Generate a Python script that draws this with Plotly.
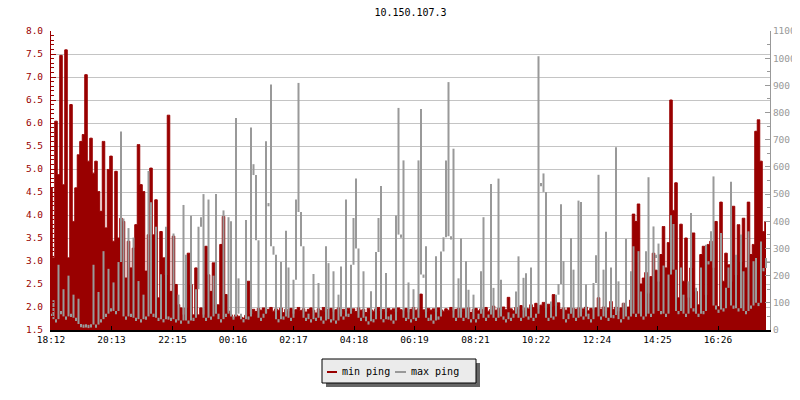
import pandas as pd
import plotly.graph_objects as go

# 5 minute samples starting 18:12
start = "2000-01-01 18:12"

min_ping = [
    4.59, 3.07, 6.04, 4.88, 7.47, 4.66, 7.59, 3.07, 6.40, 3.86,
    4.59, 5.31, 5.60, 5.75, 7.05, 5.17, 5.67, 4.91, 5.17, 4.51,
    4.08, 5.60, 3.72, 4.99, 5.28, 3.43, 4.95, 3.50, 3.93, 3.86,
    2.63, 3.43, 2.85, 3.28, 3.79, 5.53, 4.66, 4.51, 2.78, 3.57,
    5.02, 3.57, 4.33, 2.20, 3.64, 3.07, 2.70, 6.17, 2.34, 3.54,
    2.49, 2.05, 1.98, 1.83, 1.98, 3.17, 2.49, 1.83, 2.85, 1.83,
    1.98, 1.83, 3.32, 2.70, 2.34, 2.96, 2.05, 2.05, 3.36, 3.97,
    2.27, 1.91, 1.83, 1.76, 1.83, 1.80, 1.78, 1.76, 1.82, 2.56,
    1.85, 1.95, 1.90, 1.97, 1.93, 1.98, 1.87, 1.95, 1.99, 1.91,
    1.96, 1.93, 1.98, 1.88, 1.95, 1.90, 1.97, 1.85, 1.94, 1.99,
    1.92, 1.96, 1.89, 1.95, 1.98, 1.93, 1.87, 1.96, 1.92, 1.99,
    1.90, 1.95, 1.97, 1.91, 1.94, 1.98, 1.86, 1.95, 1.92, 1.97,
    1.93, 1.96, 1.90, 1.98, 1.93, 1.95, 1.88, 1.97, 1.94, 1.91,
    1.96, 1.99, 1.92, 1.95, 1.89, 1.97, 1.93, 1.96, 1.90, 1.98,
    1.94, 1.92, 1.97, 1.88, 1.95, 1.99, 1.93, 1.96, 2.28, 1.94,
    1.90, 1.97, 1.93, 1.96, 1.89, 1.98, 1.94, 1.91, 1.96, 1.93,
    1.99, 1.92, 1.95, 1.97, 1.90, 1.96, 1.93, 1.98, 1.88, 1.95,
    1.97, 1.92, 1.96, 1.94, 1.99, 1.91, 1.95, 2.02, 1.93, 1.97,
    1.95, 2.00, 1.94, 2.21, 1.96, 1.92, 1.99, 1.95, 2.03, 1.93,
    1.98, 1.96, 2.05, 1.99, 2.08, 1.97, 2.04, 2.10, 1.98, 2.06,
    2.01, 2.27, 2.03, 2.09, 1.95, 1.98, 1.93, 1.98, 1.90, 1.97,
    1.95, 1.98, 1.90, 1.96, 2.00, 1.92, 1.97, 1.94, 1.98, 2.20,
    1.95, 2.00, 1.93, 1.98, 2.12, 1.95, 2.00, 1.90, 1.98, 2.08,
    1.95, 2.00, 2.15, 4.02, 3.86, 4.24, 2.50, 2.63, 2.75, 2.30,
    2.66, 3.17, 2.80, 2.55, 3.14, 3.75, 2.85, 3.40, 6.50, 4.10,
    4.70, 2.20, 3.80, 2.56, 3.50, 2.20, 2.85, 3.61, 2.34, 2.05,
    3.14, 3.32, 2.27, 3.36, 3.43, 2.85, 3.86, 2.01, 4.28, 2.56,
    3.17, 2.92, 2.56, 4.19, 2.70, 3.79, 2.99, 3.93, 2.85, 4.28,
    3.14, 3.36, 5.82, 6.07, 5.17, 3.64, 3.86,
]

max_ping = [
    60, 110, 40, 240, 70, 150, 50, 200, 60, 130,
    45, 115, 22, 20, 21, 19, 21, 240, 20, 140,
    40, 290, 60, 225, 80, 175, 70, 250, 730, 410,
    50, 375, 60, 340, 45, 180, 40, 130, 50, 585,
    470, 60, 380, 45, 205, 40, 380, 50, 45, 355,
    40, 130, 35, 460, 277, 35, 420, 45, 150, 380,
    415, 500, 45, 480, 50, 200, 500, 60, 40, 440,
    60, 415, 400, 50, 780, 190, 60, 40, 405, 50,
    745, 610, 570, 330, 45, 60, 694, 467, 903, 308,
    277, 40, 250, 50, 365, 230, 45, 185, 480, 909,
    434, 308, 45, 60, 40, 206, 45, 173, 50, 35,
    308, 246, 40, 216, 35, 130, 234, 50, 480, 60,
    240, 412, 557, 300, 45, 216, 50, 32, 143, 40,
    287, 412, 530, 40, 210, 50, 57, 35, 421, 817,
    351, 624, 45, 175, 40, 150, 45, 624, 813, 204,
    308, 45, 57, 35, 271, 50, 289, 341, 624, 912,
    345, 667, 45, 190, 337, 45, 253, 148, 40, 130,
    40, 60, 216, 415, 45, 57, 537, 155, 45, 557,
    185, 50, 40, 65, 45, 60, 142, 271, 45, 192,
    209, 50, 230, 45, 60, 1007, 541, 576, 508, 45,
    105, 50, 130, 169, 463, 253, 40, 60, 338, 222,
    45, 476, 471, 50, 167, 60, 40, 173, 275, 571,
    50, 222, 361, 45, 230, 55, 672, 179, 40, 100,
    336, 50, 216, 308, 60, 290, 142, 50, 290, 562,
    60, 381, 277, 318, 70, 237, 60, 204, 422, 390,
    222, 70, 230, 130, 60, 179, 430, 80, 155, 60,
    230, 70, 314, 253, 363, 565, 90, 75, 357, 80,
    155, 230, 545, 90, 277, 80, 351, 216, 70, 363,
    90, 253, 265, 100, 326, 228, 265,
]

tick_labels = ["18:12", "20:13", "22:15", "00:16", "02:17", "04:18",
               "06:19", "08:21", "10:22", "12:24", "14:25", "16:26"]

RED = "#990000"
GREY = "#999999"
FONT = "DejaVu Sans Mono"

times = pd.date_range(start, periods=len(min_ping), freq="5min")

# tick positions from the labels, rolling over midnight
t0 = pd.Timestamp(start)
tickvals = []
for lab in tick_labels:
    t = pd.Timestamp(t0.strftime("%Y-%m-%d ") + lab)
    if t < t0:
        t += pd.Timedelta(days=1)
    tickvals.append(t)

# a dense max ping line only covers each column from the lowest neighbour
# up to the sample, so draw it as bars starting there (at least a few ms tall)
n = len(max_ping)
grey_base = []
for i, v in enumerate(max_ping):
    lo = min(max_ping[max(i - 1, 0)], v, max_ping[min(i + 1, n - 1)])
    grey_base.append(min(lo, v - 12))
grey_len = [v - b for v, b in zip(max_ping, grey_base)]

fig = go.Figure()
fig.add_trace(go.Scatter(x=times, y=min_ping, name="min ping",
                         mode="lines", line=dict(color=RED, width=1, shape="hvh"),
                         fill="tozeroy", fillcolor=RED, yaxis="y"))
fig.add_trace(go.Bar(x=times, y=grey_len, base=grey_base, name="max ping",
                     width=4 * 60 * 1000, marker=dict(color=GREY, line_width=0),
                     yaxis="y2"))

# the page body has an 8px margin, so the figure is drawn 8px in
PAGE = 8
W, H = 800 - PAGE, 400 - PAGE
# plot area in page pixels, also used to place the legend box
L, R, T, B = 51, 770, 31, 330


def px(x, y):
    return (x - L) / (R - L), (B - y) / (B - T)


def rect(x0, y0, x1, y1, **kw):
    a, b = px(x0, y0)
    c, d = px(x1, y1)
    return dict(type="rect", xref="paper", yref="paper",
                x0=a, y0=b, x1=c, y1=d, layer="above", **kw)


def seg(x0, x1, y, color):
    a, b = px(x0, y)
    c, _ = px(x1, y)
    return dict(type="line", xref="paper", yref="paper",
                x0=a, y0=b, x1=c, y1=b, layer="above",
                line=dict(color=color, width=2))


shapes = [
    rect(326, 363, 480, 387, fillcolor="#666666", line=dict(width=0)),
    rect(322, 359, 476, 383, fillcolor="#ebebeb", line=dict(color="black", width=1)),
    seg(327, 337, 372, RED),
    seg(395, 406, 372, GREY),
]
annotations = []
for x0, txt in [(340, "min ping"), (409, "max ping")]:
    a, b = px(x0, 371)
    annotations.append(dict(x=a, y=b, xref="paper", yref="paper", text=txt,
                            showarrow=False, xanchor="left", yanchor="middle",
                            font=dict(family=FONT, size=10, color="black")))

fig.update_layout(
    width=W, height=H,
    margin=dict(l=L - PAGE, r=W - (R - PAGE), t=T - PAGE, b=H - (B - PAGE),
                autoexpand=False),
    paper_bgcolor="white", plot_bgcolor="white",
    showlegend=False, barmode="overlay",
    title=dict(text="10.150.107.3", xref="paper", x=0.5, xanchor="center",
               yref="container", y=1 - (12 - PAGE) / H, yanchor="middle",
               font=dict(family=FONT, size=10, color="black")),
    xaxis=dict(type="date", range=[t0, t0 + pd.Timedelta(minutes=1438)],
               tickvals=tickvals, ticktext=tick_labels, automargin=False,
               ticks="inside", ticklen=4, tickcolor="black",
               showline=True, linecolor="black", linewidth=2,
               showgrid=False, zeroline=False,
               tickfont=dict(family=FONT, size=9.5, color="black")),
    yaxis=dict(range=[1.5, 8.0], dtick=0.5, tickformat=".1f", automargin=False,
               ticks="inside", ticklen=5, tickcolor=RED, ticklabelstandoff=5,
               showline=True, linecolor=RED, linewidth=1,
               gridcolor="#c4c4c4", gridwidth=1, zeroline=False,
               minor=dict(dtick=0.1, ticks="inside", ticklen=3,
                          tickcolor=RED, showgrid=False),
               tickfont=dict(family=FONT, size=9.5, color=RED)),
    yaxis2=dict(range=[0, 1100], dtick=100, overlaying="y", side="right",
                automargin=False, ticklabelstandoff=0,
                ticks="inside", ticklen=5, tickcolor=GREY,
                showline=True, linecolor=GREY, linewidth=1,
                showgrid=False, zeroline=False,
                minor=dict(dtick=50, ticks="inside", ticklen=3,
                           tickcolor=GREY, showgrid=False),
                tickfont=dict(family=FONT, size=9.5, color=GREY)),
    shapes=shapes, annotations=annotations,
)

fig.write_html("out.html")
